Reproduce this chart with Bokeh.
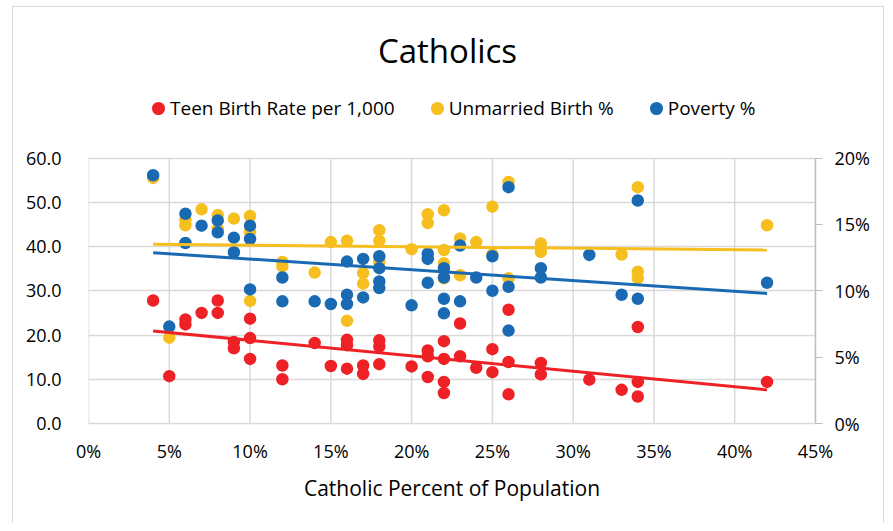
from bokeh.plotting import figure
from bokeh.models import (Range1d, LinearAxis, Label, Legend, LegendItem,
                          PrintfTickFormatter, FixedTicker)
from bokeh.embed import file_html
from bokeh.resources import INLINE

# ---- data (x = Catholic % of population) ----
teen_x = [4, 5, 6, 6, 7, 8, 8, 9, 9, 10, 10, 10, 12, 12, 14, 15, 16, 16, 16, 17,
          17, 18, 18, 18, 20, 21, 21, 21, 22, 22, 22, 22, 23, 23, 24, 25, 25, 26, 26, 26,
          28, 28, 31, 33, 34, 34, 34, 42]
teen_y = [27.8, 10.7, 23.5, 22.4, 25.0, 27.8, 25.0, 18.4, 17.0, 23.7, 19.3, 14.6, 13.1, 10.0, 18.2,
          13.0, 18.9, 17.7, 12.4, 13.1, 11.2, 18.8, 17.4, 13.4, 12.9, 16.5, 15.2, 10.5, 18.6, 14.6,
          9.4, 6.9, 22.6, 15.2, 12.6, 16.8, 11.6, 25.7, 13.9, 6.6, 13.7, 11.1, 9.9, 7.6, 21.8,
          9.4, 6.1, 9.4]

unm_x = [4, 5, 6, 6, 7, 8, 8, 9, 10, 10, 10, 12, 12, 14, 15, 16, 16, 17, 17, 18,
         18, 18, 20, 21, 21, 22, 22, 22, 22, 23, 23, 24, 25, 25, 26, 26, 28, 28, 33, 34,
         34, 34, 42]
unm_y = [55.5, 19.4, 46.0, 44.8, 48.4, 47.1, 44.0, 46.3, 46.9, 43.3, 27.7, 36.5, 35.5, 34.1, 41.0,
         41.3, 23.2, 34.0, 31.6, 43.7, 41.3, 36.5, 39.4, 47.3, 45.3, 48.2, 39.2, 36.2, 32.8, 41.8,
         33.5, 41.0, 49.0, 38.2, 54.6, 32.8, 40.7, 38.8, 38.2, 53.4, 34.3, 32.8, 44.8]

pov_x = [4, 5, 6, 6, 7, 8, 8, 9, 9, 10, 10, 10, 12, 12, 14, 15, 16, 16, 16, 17,
         17, 18, 18, 18, 18, 20, 21, 21, 21, 22, 22, 22, 22, 23, 23, 24, 25, 25, 26, 26,
         26, 28, 28, 31, 33, 34, 34, 42]
pov_y = [18.7, 7.3, 15.8, 13.6, 14.9, 15.3, 14.4, 14.0, 12.9, 14.9, 13.9, 10.1, 11.0, 9.2, 9.2,
         9.0, 12.2, 9.7, 9.0, 12.4, 9.5, 12.6, 11.7, 10.7, 10.2, 8.9, 12.8, 12.4, 10.6, 11.7,
         11.0, 9.4, 8.3, 13.4, 9.2, 11.0, 12.6, 10.0, 17.8, 10.3, 7.0, 11.7, 11.0, 12.7, 9.7,
         16.8, 9.4, 10.6]

trend_x = [4, 42]
teen_trend = [20.9, 7.6]
unm_trend = [40.5, 39.2]
pov_trend = [12.87, 9.8]

x_ticks = [0, 5, 10, 15, 20, 25, 30, 35, 40, 45]
left_ticks = [0, 10, 20, 30, 40, 50, 60]
right_ticks = [0, 5, 10, 15, 20]

RED = "#EE2226"
YEL = "#F6BE1F"
BLU = "#1A6AB3"
FONT = "Open Sans"
GRID = "#d9d9d9"

# frame spans the full height above the x axis; 0..60 occupies the bottom 265.5 px
FRAME_H = 423
Y_TOP = 60 * FRAME_H / 265.5

p = figure(width=885, height=523, output_backend="svg", toolbar_location=None,
           x_range=Range1d(0, 45), y_range=Range1d(0, Y_TOP),
           min_border_left=88, min_border_right=70, min_border_top=0, min_border_bottom=100)
p.extra_y_ranges = {"pov": Range1d(0, Y_TOP / 3)}
p.background_fill_color = None
p.border_fill_color = None
p.outline_line_color = None
g = "linear-gradient(#d9d9d9,#d9d9d9)"
p.styles = {"background": f"{g} 12px 6px / 1px 100% no-repeat, "
                          f"{g} 12px 6px / 872px 1px no-repeat, "
                          f"{g} 883px 6px / 1px 100% no-repeat, white"}

# axes
p.xaxis.ticker = FixedTicker(ticks=x_ticks)
p.xaxis.formatter = PrintfTickFormatter(format="%d%%")
p.xaxis.axis_line_color = GRID
p.xaxis.axis_line_width = 1.5
p.xaxis.major_tick_line_color = None
p.xaxis.minor_tick_line_color = None
p.xaxis.major_label_standoff = 9
p.xaxis.major_label_text_font = FONT
p.xaxis.major_label_text_font_size = "18px"
p.xaxis.major_label_text_color = "#000000"
p.xaxis.axis_label = "Catholic Percent of Population"
p.xaxis.axis_label_text_font = FONT
p.xaxis.axis_label_text_font_size = "21px"
p.xaxis.axis_label_text_font_style = "normal"
p.xaxis.axis_label_text_color = "#000000"
p.xaxis.axis_label_standoff = 8

p.yaxis.ticker = FixedTicker(ticks=left_ticks)
p.yaxis.formatter = PrintfTickFormatter(format="%.1f")
p.yaxis.axis_line_color = None
p.yaxis.major_tick_line_color = None
p.yaxis.minor_tick_line_color = None
p.yaxis.major_label_standoff = 21
p.yaxis.major_label_text_font = FONT
p.yaxis.major_label_text_font_size = "18px"
p.yaxis.major_label_text_color = "#000000"

ry = LinearAxis(y_range_name="pov", ticker=FixedTicker(ticks=right_ticks),
                formatter=PrintfTickFormatter(format="%d%%"), bounds=(0, 20))
ry.axis_line_color = "#bfbfbf"
ry.axis_line_width = 1.5
ry.major_tick_line_color = "#bfbfbf"
ry.major_tick_in = 0
ry.major_tick_out = 7
ry.minor_tick_line_color = None
ry.major_label_standoff = 12
ry.major_label_text_font = FONT
ry.major_label_text_font_size = "18px"
ry.major_label_text_color = "#000000"
p.add_layout(ry, "right")

# grid: horizontal lines at the left-axis ticks, vertical lines at the x ticks (0..60 only)
p.xgrid.visible = False
p.ygrid.ticker = FixedTicker(ticks=left_ticks)
p.ygrid.grid_line_color = GRID
p.ygrid.grid_line_width = 1.5
p.segment(x0=x_ticks, y0=[0] * len(x_ticks), x1=x_ticks, y1=[60] * len(x_ticks),
          line_color=GRID, line_width=1.5)

# points (filled circle + same-colour outline gives ~12.5 px dots)
r_teen = p.scatter(teen_x, teen_y, size=9, line_width=3.5, color=RED, marker="circle")
r_unm = p.scatter(unm_x, unm_y, size=9, line_width=3.5, color=YEL, marker="circle")
r_pov = p.scatter(pov_x, pov_y, size=9, line_width=3.5, color=BLU, marker="circle",
                  y_range_name="pov")

# trend lines
p.line(trend_x, teen_trend, line_color=RED, line_width=3)
p.line(trend_x, unm_trend, line_color=YEL, line_width=3)
p.line(trend_x, pov_trend, line_color=BLU, line_width=3, y_range_name="pov")

# title
p.add_layout(Label(x=359, y=373, x_units="screen", y_units="screen", text="Catholics",
                   text_align="center", text_baseline="middle", text_font=FONT,
                   text_font_size="33px", text_color="#000000"))

legend = Legend(items=[LegendItem(label="Teen Birth Rate per 1,000", renderers=[r_teen]),
                       LegendItem(label="Unmarried Birth %", renderers=[r_unm]),
                       LegendItem(label="Poverty %", renderers=[r_pov])],
                orientation="horizontal", location=(58, 302),
                glyph_width=24, glyph_height=24, label_standoff=0, spacing=30,
                padding=0, margin=0, border_line_color=None, background_fill_alpha=0,
                label_text_font=FONT, label_text_font_size="19px", label_text_color="#000000",
                label_height=24)
p.add_layout(legend)

open("out.html", "w").write(file_html(p, INLINE))
